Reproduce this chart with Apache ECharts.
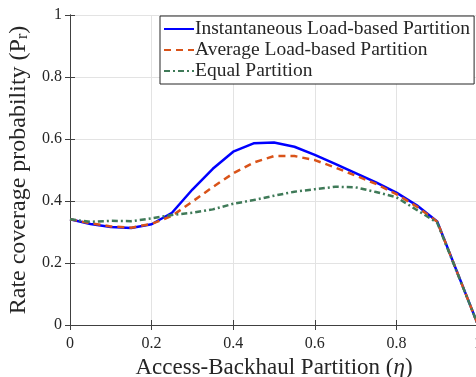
<!DOCTYPE html>
<html>
<head>
<meta charset="utf-8">
<script src="https://cdn.jsdelivr.net/npm/echarts@6/dist/echarts.min.js"></script>
<style>
  html, body { margin: 0; padding: 0; background: #fff; }
  #chart { width: 476px; height: 377px; }
</style>
</head>
<body>
<div id="chart"></div>
<script>
// Access-backhaul partition values (eta)
const eta = [0, 0.05, 0.1, 0.15, 0.2, 0.25, 0.3, 0.35, 0.4, 0.45, 0.5,
             0.55, 0.6, 0.65, 0.7, 0.75, 0.8, 0.85, 0.9, 1.0];

// Rate coverage probability for each partition strategy
const instantaneous = [0.341, 0.326, 0.316, 0.313, 0.325, 0.362, 0.437, 0.504, 0.559, 0.586, 0.589,
                       0.575, 0.549, 0.520, 0.490, 0.460, 0.427, 0.386, 0.334, 0.0];
const average = [0.341, 0.328, 0.318, 0.314, 0.326, 0.352, 0.398, 0.445, 0.489, 0.524, 0.545,
                 0.545, 0.532, 0.508, 0.482, 0.455, 0.422, 0.382, 0.333, 0.0];
const equal = [0.341, 0.333, 0.336, 0.335, 0.344, 0.355, 0.362, 0.373, 0.391, 0.403, 0.417,
               0.430, 0.438, 0.446, 0.444, 0.429, 0.412, 0.371, 0.330, 0.0];

const seriesNames = ['Instantaneous Load-based Partition', 'Average Load-based Partition', 'Equal Partition'];

const FONT = '"Liberation Serif", "DejaVu Serif", serif';
const TEXT_COLOR = '#262626';
const AXIS_COLOR = '#404040';
const GRID_COLOR = '#e3e3e3';

const pairs = ys => eta.map((x, i) => [x, ys[i]]);

const chart = echarts.init(document.getElementById('chart'), null, { renderer: 'canvas' });

const unitAxis = { type: 'value', min: 0, max: 1, interval: 0.2 };
const frameLine = { show: true, lineStyle: { color: AXIS_COLOR, width: 1 } };
const frameTick = { show: true, inside: true, length: 5, lineStyle: { color: AXIS_COLOR } };

chart.setOption({
  animation: false,
  backgroundColor: '#fff',
  grid: { left: 70, right: -2, top: 15, bottom: 52, show: false, containLabel: false, outerBoundsMode: 'none' },
  legend: {
    data: seriesNames,
    orient: 'vertical',
    left: 160,
    top: 16,
    itemWidth: 30,
    itemHeight: 10,
    itemGap: 1,
    padding: [3, 4, 3, 3],
    backgroundColor: '#fff',
    borderColor: '#262626',
    borderWidth: 1,
    borderRadius: 0,
    itemStyle: { opacity: 0 },
    textStyle: { fontFamily: FONT, fontSize: 19.5, color: TEXT_COLOR, padding: [0, 0, 0, -4] }
  },
  xAxis: [
    Object.assign({}, unitAxis, {
      position: 'bottom',
      name: '{t|Access-Backhaul Partition (}{e|η}{t|)}',
      nameLocation: 'middle',
      nameGap: 27,
      nameTextStyle: {
        rich: {
          t: { fontFamily: FONT, fontSize: 23, color: TEXT_COLOR },
          e: { fontFamily: FONT, fontSize: 23, fontStyle: 'italic', color: TEXT_COLOR }
        }
      },
      axisLine: frameLine,
      axisTick: frameTick,
      axisLabel: { fontFamily: FONT, fontSize: 16, color: TEXT_COLOR, margin: 11 },
      splitLine: { show: true, lineStyle: { color: GRID_COLOR, width: 1 } }
    }),
    Object.assign({}, unitAxis, {
      position: 'top',
      axisLine: frameLine,
      axisTick: frameTick,
      axisLabel: { show: false },
      splitLine: { show: false }
    })
  ],
  yAxis: [
    Object.assign({}, unitAxis, {
      position: 'left',
      name: '{t|Rate coverage probability (P}{s|r}{t|)}',
      nameLocation: 'middle',
      nameGap: 22,
      nameRotate: 90,
      nameTextStyle: {
        rich: {
          t: { fontFamily: FONT, fontSize: 24, lineHeight: 25, color: TEXT_COLOR },
          s: { fontFamily: FONT, fontSize: 16, lineHeight: 13, color: TEXT_COLOR, verticalAlign: 'bottom' }
        }
      },
      axisLine: frameLine,
      axisTick: frameTick,
      axisLabel: { fontFamily: FONT, fontSize: 16, color: TEXT_COLOR, margin: 8 },
      splitLine: { show: true, lineStyle: { color: GRID_COLOR, width: 1 } }
    }),
    Object.assign({}, unitAxis, {
      position: 'right',
      axisLine: frameLine,
      axisTick: frameTick,
      axisLabel: { show: false },
      splitLine: { show: false }
    })
  ],
  series: [
    {
      name: seriesNames[0], type: 'line', data: pairs(instantaneous),
      showSymbol: false, symbol: 'none', z: 3,
      lineStyle: { color: '#0000ff', width: 2.5, type: 'solid' },
      itemStyle: { color: '#0000ff' }
    },
    {
      name: seriesNames[1], type: 'line', data: pairs(average),
      showSymbol: false, symbol: 'none', z: 4,
      lineStyle: { color: '#d95319', width: 2.5, type: [7, 5] },
      itemStyle: { color: '#d95319' }
    },
    {
      name: seriesNames[2], type: 'line', data: pairs(equal),
      showSymbol: false, symbol: 'none', z: 5,
      lineStyle: { color: '#3f7a58', width: 2.5, type: [6, 3, 2, 3] },
      itemStyle: { color: '#3f7a58' }
    }
  ]
});
</script>
</body>
</html>
